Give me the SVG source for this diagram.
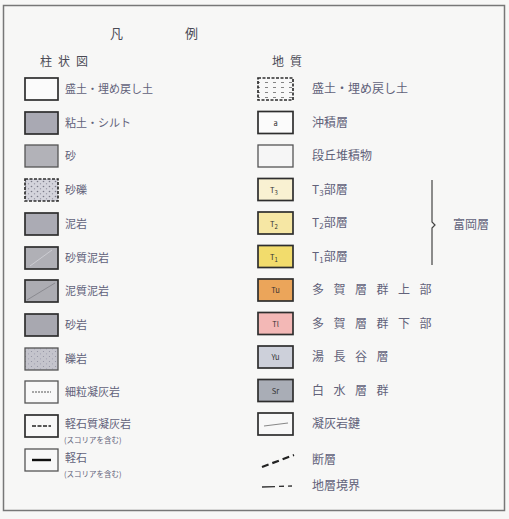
<svg xmlns="http://www.w3.org/2000/svg" width="509" height="519" viewBox="0 0 509 519">
<style>
text{font-family:"Noto Sans CJK JP","Noto Sans",sans-serif;fill:#62627a}
.lbl{font-size:12px}
.ll{font-size:11px}
.sp{font-size:12px;letter-spacing:9.5px}
.hd{font-size:12px;fill:#4a4a55}
.small{font-size:7.5px}
.bx{font-size:7.5px;fill:#333;text-anchor:middle}
.b{stroke:#2e2e2e;stroke-width:1.7}
.bl{stroke:#555;stroke-width:1.3}
</style>
<defs>
<pattern id="dots" width="6" height="5" patternUnits="userSpaceOnUse">
<rect width="6" height="5" fill="#d4d4dc"/>
<circle cx="1.5" cy="1.5" r="0.8" fill="#7a7a88"/>
<circle cx="4.5" cy="3.8" r="0.7" fill="#9a9aa8"/>
</pattern>
<pattern id="dots2" width="6" height="5" patternUnits="userSpaceOnUse">
<rect width="6" height="5" fill="#c4c4cc"/>
<circle cx="1.5" cy="1.5" r="0.6" fill="#9090a0"/>
<circle cx="4.5" cy="3.8" r="0.6" fill="#a0a0b0"/>
</pattern>
<pattern id="fill" width="8" height="5" patternUnits="userSpaceOnUse">
<rect width="8" height="5" fill="#f8f8f8"/>
<line x1="1" y1="2.5" x2="4" y2="2.5" stroke="#666" stroke-width="0.8"/>
</pattern>
</defs>
<rect width="509" height="519" fill="#f7f7f6"/>
<rect x="3.5" y="5.5" width="501" height="505" fill="none" stroke="#777" stroke-width="1.5"/>

<g id="title">
<text x="110" y="38" class="hd" style="font-size:13px">凡</text>
<text x="185" y="38" class="hd" style="font-size:13px">例</text>
</g>
<g id="head-left"><text x="40" y="66" class="hd" style="letter-spacing:6px">柱状図</text></g>
<g id="head-right"><text x="272" y="66" class="hd" style="letter-spacing:6px">地質</text></g>

<!-- left column -->
<g id="L1"><rect x="25" y="78" width="33" height="22" fill="#fbfbfb" class="b"/><text x="65" y="93" class="ll">盛土・埋め戻し土</text></g>
<g id="L2"><rect x="25" y="112" width="33" height="22" fill="#a9a9b3" class="b"/><text x="65" y="127" class="ll">粘土・シルト</text></g>
<g id="L3"><rect x="25" y="145" width="33" height="22" fill="#b2b2b8" class="bl"/><text x="65" y="160" class="ll">砂</text></g>
<g id="L4"><rect x="25" y="179" width="33" height="22" fill="url(#dots)" class="b" stroke-dasharray="3 1.5"/><text x="65" y="194" class="ll">砂礫</text></g>
<g id="L5"><rect x="25" y="213" width="33" height="22" fill="#ababb4" class="b"/><text x="65" y="228" class="ll">泥岩</text></g>
<g id="L6"><rect x="25" y="247" width="33" height="22" fill="#b0b0b6" class="b"/><line x1="30" y1="266" x2="52" y2="250" stroke="#ccccd2" stroke-width="1"/><text x="65" y="262" class="ll">砂質泥岩</text></g>
<g id="L7"><rect x="25" y="280" width="33" height="22" fill="#acacb2" class="b"/><line x1="27" y1="300" x2="55" y2="283" stroke="#8a8a90" stroke-width="1"/><text x="65" y="295" class="ll">泥質泥岩</text></g>
<g id="L8"><rect x="25" y="314" width="33" height="22" fill="#a8a8b0" class="b"/><text x="65" y="329" class="ll">砂岩</text></g>
<g id="L9"><rect x="25" y="348" width="33" height="22" fill="url(#dots2)" class="bl"/><text x="65" y="363" class="ll">礫岩</text></g>
<g id="L10"><rect x="25" y="381" width="33" height="22" fill="#f8f8f8" class="bl"/><line x1="32" y1="392" x2="51" y2="392" stroke="#555" stroke-width="1" stroke-dasharray="2 1"/><text x="65" y="396" class="ll">細粒凝灰岩</text></g>
<g id="L11"><rect x="25" y="415" width="33" height="22" fill="#f8f8f8" class="b"/><line x1="32" y1="426" x2="51" y2="426" stroke="#222" stroke-width="1.6" stroke-dasharray="4 1.5"/><text x="65" y="428" class="ll">軽石質凝灰岩</text><text x="64" y="443" class="small">(スコリアを含む)</text></g>
<g id="L12"><rect x="25" y="449" width="33" height="22" fill="#f8f8f8" class="bl"/><line x1="32" y1="460" x2="51" y2="460" stroke="#111" stroke-width="2.4"/><text x="65" y="462" class="ll">軽石</text><text x="64" y="477" class="small">(スコリアを含む)</text></g>

<!-- right column -->
<g id="R1"><rect x="258" y="78" width="35" height="22" fill="url(#fill)" class="b" stroke-dasharray="3 1.5"/><text x="312" y="93" class="lbl">盛土・埋め戻し土</text></g>
<g id="R2"><rect x="258" y="111.5" width="35" height="22" fill="#fbfbfb" class="b"/><text x="275.5" y="125.5" class="bx">a</text><text x="312" y="127" class="lbl">沖積層</text></g>
<g id="R3"><rect x="258" y="145" width="35" height="22" fill="#f6f6f6" class="bl"/><text x="312" y="160" class="lbl">段丘堆積物</text></g>
<g id="R4"><rect x="258" y="178.5" width="35" height="22" fill="#f9f1d2" class="b"/><text x="274" y="193" class="bx">T<tspan font-size="6" dy="2">3</tspan></text><text x="312" y="194" class="lbl">T<tspan font-size="8" dy="2">3</tspan><tspan dy="-2">部層</tspan></text></g>
<g id="R5"><rect x="258" y="212" width="35" height="22" fill="#f6e7a4" class="b"/><text x="274" y="226.5" class="bx">T<tspan font-size="6" dy="2">2</tspan></text><text x="312" y="227" class="lbl">T<tspan font-size="8" dy="2">2</tspan><tspan dy="-2">部層</tspan></text></g>
<g id="R6"><rect x="258" y="245.5" width="35" height="22" fill="#f2dc6c" class="b"/><text x="274" y="260" class="bx">T<tspan font-size="6" dy="2">1</tspan></text><text x="312" y="261" class="lbl">T<tspan font-size="8" dy="2">1</tspan><tspan dy="-2">部層</tspan></text></g>
<g id="R7"><rect x="258" y="279" width="35" height="22" fill="#eba55a" class="b"/><text x="275.5" y="293" class="bx">Tu</text><text x="312" y="294" class="sp">多賀層群上部</text></g>
<g id="R8"><rect x="258" y="312.5" width="35" height="22" fill="#f3b8b6" class="b"/><text x="275.5" y="326.5" class="bx">Tl</text><text x="312" y="328" class="sp">多賀層群下部</text></g>
<g id="R9"><rect x="258" y="346" width="35" height="22" fill="#cdd0da" class="b"/><text x="275.5" y="360" class="bx">Yu</text><text x="312" y="361" class="sp">湯長谷層</text></g>
<g id="R10"><rect x="258" y="379.5" width="35" height="22" fill="#a9adb6" class="b"/><text x="275.5" y="393.5" class="bx">Sr</text><text x="312" y="395" class="sp">白水層群</text></g>
<g id="R11"><rect x="258" y="413" width="35" height="22" fill="#f8f8f8" class="b"/><line x1="264" y1="426" x2="288" y2="423" stroke="#888" stroke-width="1.2"/><text x="312" y="428" class="lbl">凝灰岩鍵</text></g>
<g id="R12"><line x1="262" y1="467" x2="294" y2="455" stroke="#222" stroke-width="2.2" stroke-dasharray="7 4"/><text x="312" y="464" class="lbl">断層</text></g>
<g id="R13"><line x1="262" y1="487" x2="292" y2="486" stroke="#333" stroke-width="1.3" stroke-dasharray="13 4 5 4"/><text x="312" y="490" class="lbl">地層境界</text></g>

<g id="brace">
<path d="M432 180 V222 L435 225 L432 228 V265" fill="none" stroke="#444" stroke-width="1.2"/>
<text x="453" y="229" class="lbl">富岡層</text>
</g>
<g id="connectors"></g>
</svg>
